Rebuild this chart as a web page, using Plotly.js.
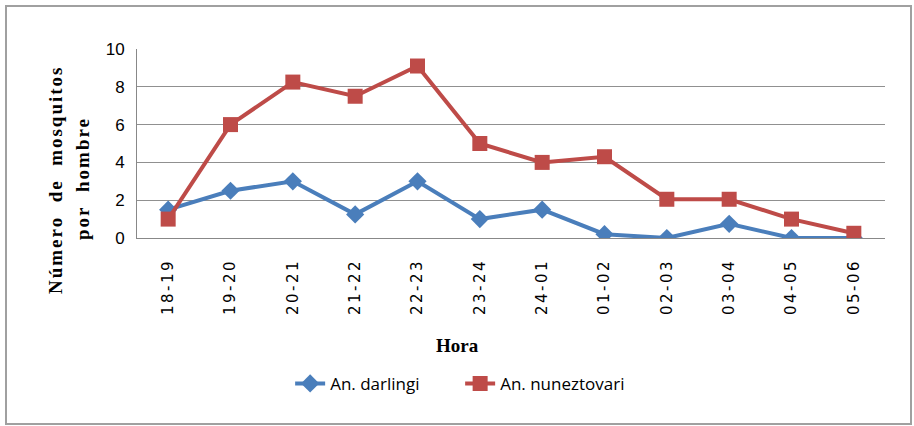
<!DOCTYPE html>
<html>
<head>
<meta charset="utf-8">
<script src="https://cdn.plot.ly/plotly-3.0.1.min.js"></script>
<style>
html,body{margin:0;padding:0;background:#fff;}
#chart{width:914px;height:426px;}
#chart g.annotation[data-index="0"] text,
#chart g.annotation[data-index="1"] text { letter-spacing: 2px; }
#chart .xtick text { letter-spacing: 2.5px; }
</style>
</head>
<body>
<div id="chart"></div>
<script>
const categories = ["18-19","19-20","20-21","21-22","22-23","23-24","24-01","01-02","02-03","03-04","04-05","05-06"];
const darlingi = [1.5, 2.5, 3.0, 1.25, 3.0, 1.0, 1.5, 0.2, 0.0, 0.75, 0.0, 0.0];
const nuneztovari = [1.0, 6.0, 8.25, 7.5, 9.1, 5.0, 4.0, 4.3, 2.05, 2.05, 1.0, 0.25];
const yTicks = [0, 2, 4, 6, 8, 10];

const sp = (n) => "&nbsp;".repeat(n);

const traces = [
  {
    x: categories, y: darlingi, name: "An. darlingi", type: "scatter", mode: "lines+markers",
    line: {color: "#4a7ebb", width: 4},
    marker: {symbol: "diamond", size: 14, color: "#4a7ebb"}
  },
  {
    x: categories, y: nuneztovari, name: "An. nuneztovari", type: "scatter", mode: "lines+markers",
    line: {color: "#be4b48", width: 4},
    marker: {symbol: "square", size: 15, color: "#be4b48"}
  }
];

const serif = "Liberation Serif, Times New Roman, serif";

const layout = {
  width: 914, height: 426,
  margin: {l: 137, r: 29, t: 49, b: 188},
  paper_bgcolor: "#ffffff", plot_bgcolor: "#ffffff",
  showlegend: true,
  legend: {
    orientation: "h", x: 0.432, xanchor: "center", y: -0.772, yanchor: "middle",
    font: {family: "Open Sans, sans-serif", size: 17, color: "#000"},
    entrywidth: 125, entrywidthmode: "pixels",
    tracegroupgap: 0
  },
  xaxis: {
    type: "category", tickangle: -90, range: [-0.5, 11.5],
    tickfont: {family: "DejaVu Sans, sans-serif", size: 15, color: "#000"},
    ticklabelstandoff: 14,
    showgrid: false, showline: true, linecolor: "#888", linewidth: 1,
    ticks: "", zeroline: false
  },
  yaxis: {
    range: [0, 10], tickvals: yTicks, ticktext: yTicks.map(String),
    tickfont: {family: "Liberation Sans, Arial, sans-serif", size: 17, color: "#000"},
    ticklabelstandoff: 8,
    showgrid: true, gridcolor: "#909090", gridwidth: 1,
    showline: true, linecolor: "#888", linewidth: 1,
    zeroline: false, ticks: ""
  },
  annotations: [
    {text: "<b>Número" + sp(2) + "de" + sp(2) + "mosquitos</b>", textangle: -90,
     xref: "paper", yref: "paper", x: (55-137)/748, y: (238-180)/189,
     xanchor: "center", yanchor: "middle", showarrow: false,
     font: {family: serif, size: 19, color: "#000"}},
    {text: "<b>por" + sp(2) + "hombre</b>", textangle: -90,
     xref: "paper", yref: "paper", x: (82-137)/748, y: (238-179)/189,
     xanchor: "center", yanchor: "middle", showarrow: false,
     font: {family: serif, size: 19, color: "#000"}},
    {text: "<b>Hora</b>", xref: "paper", yref: "paper",
     x: (457-137)/748, y: (238-345)/189, xanchor: "center", yanchor: "middle",
     showarrow: false, font: {family: serif, size: 19, color: "#000"}}
  ],
  shapes: [
    {type: "rect", xref: "paper", yref: "paper", layer: "below",
     x0: (6-137)/748, x1: (911-137)/748, y0: (238-424)/189, y1: (238-6)/189,
     line: {color: "#a0a0a0", width: 2}, fillcolor: "rgba(0,0,0,0)"}
  ]
};

Plotly.newPlot("chart", traces, layout, {displayModeBar: false, staticPlot: true});
</script>
</body>
</html>
